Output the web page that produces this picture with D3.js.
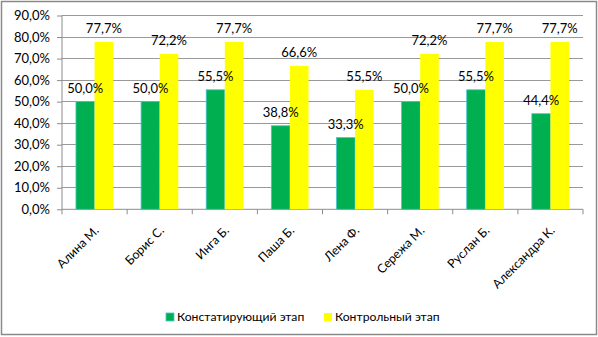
<!DOCTYPE html>
<html><head><meta charset="utf-8">
<script src="https://cdn.jsdelivr.net/npm/d3@7"></script>
<style>
html,body{margin:0;padding:0;background:#fff;}
svg{display:block;font-family:Lato, "Open Sans", sans-serif;}
</style></head>
<body><svg id="c" width="598" height="337"></svg>
<script>
const categories = ["Алина М.","Борис С.","Инга Б.","Паша Б.","Лена Ф.","Сережа М.","Руслан Б.","Александра К."];
const seriesNames = ["Констатирующий этап","Контрольный этап"];
const stage1 = [50.0,50.0,55.5,38.8,33.3,50.0,55.5,44.4];
const stage2 = [77.7,72.2,77.7,66.6,55.5,72.2,77.7,77.7];
const yTicks = [0,10,20,30,40,50,60,70,80,90];
const colors = ["#00B050","#FFFF00"];

(function(){
const svg = d3.select("#c");
const fmt = v => v.toFixed(1).replace(".", ",") + "%";
const pL = 62, pR = 583, pT = 15.5, pB = 209.3;

svg.append("rect").attr("x",1.5).attr("y",1.5).attr("width",595).attr("height",333)
  .attr("fill","#fff").attr("stroke","#8a8a8a").attr("stroke-width",1.5);

const x = d3.scaleBand().domain(categories).range([pL,pR]);
const y = d3.scaleLinear().domain([0,90]).range([pB,pT]);
const bw = x.bandwidth()/3.5;

// gridlines
svg.append("g").selectAll("line").data(yTicks.slice(1)).join("line")
  .attr("x1",pL).attr("x2",pR).attr("y1",d=>y(d)).attr("y2",d=>y(d))
  .attr("stroke","#999").attr("stroke-width",1).attr("shape-rendering","crispEdges");

// y axis
const ya = svg.append("g").attr("transform",`translate(${pL},0)`)
  .call(d3.axisLeft(y).tickValues(yTicks).tickSize(5).tickPadding(7).tickFormat(d=>fmt(d)));
ya.select(".domain").attr("stroke","#8c8c8c").attr("d",`M0,${y(90)}V${y(0)}`);
ya.selectAll(".tick line").attr("stroke","#8c8c8c");
ya.selectAll("text").attr("font-size",13).attr("fill","#000").attr("font-family","Lato");

// x axis
const xa = svg.append("g").attr("transform",`translate(0,${pB})`);
xa.append("line").attr("x1",pL).attr("x2",pR).attr("stroke","#8c8c8c");
xa.selectAll(".tk").data(d3.range(categories.length+1)).join("line").attr("class","tk")
  .attr("x1",i=>pL+i*x.step()).attr("x2",i=>pL+i*x.step()).attr("y1",0).attr("y2",5)
  .attr("stroke","#8c8c8c");
xa.selectAll("text").data(categories).join("text")
  .attr("transform",d=>`translate(${x(d)+x.bandwidth()/2+5},22) rotate(-45)`)
  .attr("text-anchor","end").attr("font-size",12.3).text(d=>d);

// bars
const series = [stage1, stage2];
series.forEach((vals,s)=>{
  svg.append("g").selectAll("rect").data(categories).join("rect")
    .attr("x",(d)=>x(d)+x.bandwidth()/2 - bw + s*bw)
    .attr("width",bw)
    .attr("y",(d,i)=>y(vals[i]))
    .attr("height",(d,i)=>y(0)-y(vals[i]))
    .attr("fill",colors[s])
    .attr("stroke", s===0 ? "#4bc3d6" : "none").attr("stroke-width",0.8);
});
series.forEach((vals,s)=>{
  svg.append("g").selectAll("text").data(categories).join("text")
    .attr("x",(d)=>x(d)+x.bandwidth()/2 - bw/2 + s*bw)
    .attr("y",(d,i)=>y(vals[i])-8.5)
    .attr("text-anchor","middle").attr("font-size",13).text((d,i)=>fmt(vals[i]));
});

// legend
const leg = [{x:166,t:seriesNames[0],c:colors[0]},{x:324,t:seriesNames[1],c:colors[1]}];
leg.forEach((l,i)=>{
  svg.append("rect").attr("x",l.x).attr("y",313).attr("width",8).attr("height",8)
    .attr("fill",l.c).attr("stroke",i===0?"#4bc3d6":"none").attr("stroke-width",0.8);
  svg.append("text").attr("x",l.x+11).attr("y",321).attr("font-size",12.2).text(l.t);
});
})();
</script></body></html>
